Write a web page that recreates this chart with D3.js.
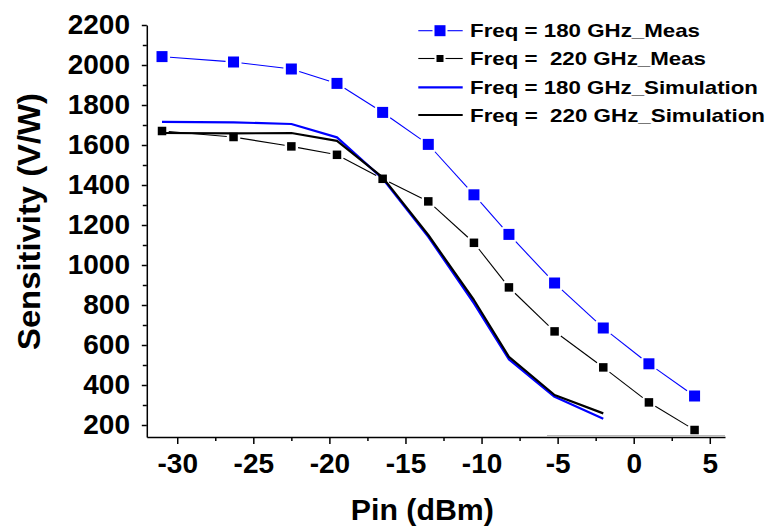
<!DOCTYPE html>
<html>
<head>
<meta charset="utf-8">
<script src="https://cdn.jsdelivr.net/npm/d3@7"></script>
<style>
  html, body { margin: 0; padding: 0; background: #fff; }
  svg { display: block; }
  text { font-family: "Liberation Sans", Arial, sans-serif; font-weight: bold; fill: #000; }
</style>
</head>
<body>
<svg id="chart" width="769" height="527"></svg>
<script>
// ---- data ----
const pinMeas = [-31, -26.3, -22.5, -19.5, -16.5, -13.5, -10.5, -8.2, -5.2, -2, 1, 4];
const meas180 = [2042, 2015, 1980, 1908, 1763, 1603, 1351, 1153, 910, 685, 506, 345];
const meas220 = [1670, 1640, 1593, 1551, 1431, 1318, 1111, 888, 668, 488, 313, 175];
const pinSim = [-31, -26.3, -22.5, -19.5, -16.5, -13.5, -10.5, -8.2, -5.2, -2];
const sim180 = [1716, 1713, 1705, 1638, 1432, 1141, 808, 528, 341, 231];
const sim220 = [1660, 1658, 1660, 1621, 1438, 1150, 825, 541, 350, 258];
const xTicks = [-30, -25, -20, -15, -10, -5, 0, 5];
const xMinor = [-27.5, -22.5, -17.5, -12.5, -7.5, -2.5, 2.5];
const yTicks = [200, 400, 600, 800, 1000, 1200, 1400, 1600, 1800, 2000, 2200];
const yMinor = [300, 500, 700, 900, 1100, 1300, 1500, 1700, 1900, 2100];
const legendLabels = ["Freq = 180 GHz_Meas", "Freq =  220 GHz_Meas", "Freq = 180 GHz_Simulation", "Freq =  220 GHz_Simulation"];
const xTitle = "Pin (dBm)";
const yTitle = "Sensitivity (V/W)";

const BLUE = "#0000ff", BLACK = "#000000";
const svg = d3.select("#chart");
const x = d3.scaleLinear().domain([-32, 6]).range([146.8, 725]);
const y = d3.scaleLinear().domain([140, 2200]).range([437, 25]);

// ---- simulation lines ----
const line = d3.line().x(d => x(d[0])).y(d => y(d[1]));
function drawSim(xs, ys, color) {
  svg.append("path").datum(xs.map((v, i) => [v, ys[i]]))
    .attr("d", line).attr("fill", "none").attr("stroke", color)
    .attr("stroke-width", 2.2).attr("stroke-linejoin", "round");
}
drawSim(pinSim, sim180, BLUE);
drawSim(pinSim, sim220, BLACK);

// ---- measured series (line with gaps near markers) ----
function drawMeas(xs, ys, color, size) {
  const pts = xs.map((v, i) => [x(v), y(ys[i])]);
  const g = svg.append("g");
  const half = size / 2;
  for (let i = 0; i < pts.length - 1; i++) {
    const [x1, y1] = pts[i], [x2, y2] = pts[i + 1];
    const dx = x2 - x1, dy = y2 - y1, L = Math.hypot(dx, dy);
    const ux = dx / L, uy = dy / L;
    const t = half / Math.max(Math.abs(ux), Math.abs(uy)) + 2.5;
    if (L <= 2 * t) continue;
    g.append("line")
      .attr("x1", x1 + ux * t).attr("y1", y1 + uy * t)
      .attr("x2", x2 - ux * t).attr("y2", y2 - uy * t)
      .attr("stroke", color).attr("stroke-width", 1.1);
  }
  g.selectAll("rect").data(pts).join("rect")
    .attr("x", d => d[0] - half).attr("y", d => d[1] - half)
    .attr("width", size).attr("height", size).attr("fill", color);
}
drawMeas(pinMeas, meas180, BLUE, 11);
drawMeas(pinMeas, meas220, BLACK, 8.5);

// ---- axes ----
const fmt = d => String(d);
const gx = svg.append("g").attr("transform", `translate(0,${y(140)})`);
gx.call(d3.axisBottom(x).tickValues(xTicks).tickFormat(fmt).tickSizeInner(7).tickSizeOuter(0).tickPadding(9));
const gxm = svg.append("g").attr("transform", `translate(0,${y(140)})`);
gxm.call(d3.axisBottom(x).tickValues(xMinor).tickFormat("").tickSizeInner(4).tickSizeOuter(0));
gxm.select(".domain").remove();

const gy = svg.append("g").attr("transform", `translate(${x(-32)},0)`);
gy.call(d3.axisLeft(y).tickValues(yTicks).tickFormat(fmt).tickSizeInner(5).tickSizeOuter(0).tickPadding(11.8));
const gym = svg.append("g").attr("transform", `translate(${x(-32)},0)`);
gym.call(d3.axisLeft(y).tickValues(yMinor).tickFormat("").tickSizeInner(4).tickSizeOuter(0));
gym.select(".domain").remove();

svg.selectAll(".domain, .tick line").attr("stroke", "#000").attr("stroke-width", 1.5);
svg.selectAll(".tick text").style("font-size", "28px").style("font-family", "'Liberation Sans', Arial, sans-serif").style("font-weight", "bold").attr("fill", "#000");

// faint duplicate baseline segment at right of x axis
svg.append("line").attr("x1", x(-5.7)).attr("x2", x(6)).attr("y1", y(140) - 1.4).attr("y2", y(140) - 1.4)
  .attr("stroke", "#b0b0b0").attr("stroke-width", 1);

// ---- titles ----
svg.append("text").attr("x", 422.3).attr("y", 520).attr("text-anchor", "middle")
  .style("font-size", "29px").attr("textLength", 143).attr("lengthAdjust", "spacingAndGlyphs").text(xTitle);
svg.append("text").attr("transform", "translate(40,221.5) rotate(-90)").attr("text-anchor", "middle")
  .style("font-size", "32px").attr("textLength", 257).attr("lengthAdjust", "spacingAndGlyphs").text(yTitle);

// ---- legend ----
const legY = [30.7, 58.5, 87.3, 115];
const legW = [230, 236, 288, 295];
const legColors = [BLUE, BLACK, BLUE, BLACK];
const lg = svg.append("g");
legLabels = legendLabels;
legendLabels.forEach((lab, i) => {
  const cy = legY[i], c = legColors[i];
  if (i < 2) {
    const s = i === 0 ? 11 : 7;
    lg.append("line").attr("x1", 418.3).attr("x2", 440 - s / 2 - 2).attr("y1", cy).attr("y2", cy).attr("stroke", c).attr("stroke-width", 1.1);
    lg.append("line").attr("x1", 440 + s / 2 + 2).attr("x2", 462.7).attr("y1", cy).attr("y2", cy).attr("stroke", c).attr("stroke-width", 1.1);
    lg.append("rect").attr("x", 440 - s / 2).attr("y", cy - s / 2).attr("width", s).attr("height", s).attr("fill", c);
  } else {
    lg.append("line").attr("x1", 418.3).attr("x2", 462.7).attr("y1", cy).attr("y2", cy).attr("stroke", c).attr("stroke-width", 2.2);
  }
  lg.append("text").attr("x", 470).attr("y", cy + 6.7).style("font-size", "19px").style("white-space", "pre")
    .attr("textLength", legW[i]).attr("lengthAdjust", "spacingAndGlyphs").text(lab);
});
</script>
</body>
</html>
